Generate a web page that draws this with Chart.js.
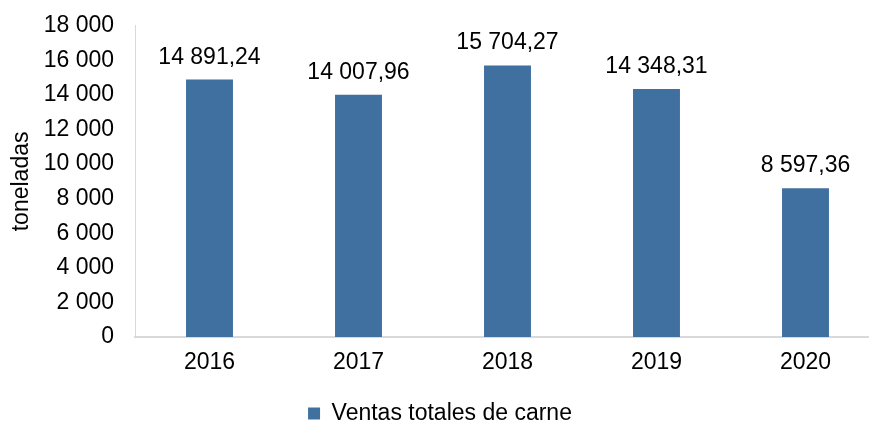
<!DOCTYPE html>
<html>
<head>
<meta charset="utf-8">
<script src="https://cdn.jsdelivr.net/npm/chart.js@4.4.1/dist/chart.umd.min.js"></script>
<style>
	html, body { margin: 0; padding: 0; background: #ffffff; overflow: hidden; }
	#wrap { width: 880px; height: 444px; margin-top: -9px; }
</style>
</head>
<body>
<div id="wrap"><canvas id="meatChart"></canvas></div>
<script>
// Datos
const years = ['2016', '2017', '2018', '2019', '2020'];
const salesTons = [14891.24, 14007.96, 15704.27, 14348.31, 8597.36];
const seriesLabel = 'Ventas totales de carne';
const axisTitle = 'toneladas';

// Format: thousands with space, decimals with comma
function formatNumber(value, decimals) {
	const parts = value.toFixed(decimals).split('.');
	parts[0] = parts[0].replace(/\B(?=(\d{3})+(?!\d))/g, ' ');
	return parts.join(',');
}

const fontFamily = '"Liberation Sans", Arial, sans-serif';
const fontSize = 23;

// Draw value labels above the bars
const valueLabels = {
	id: 'valueLabels',
	afterDatasetsDraw(chart) {
		const ctx = chart.ctx;
		const meta = chart.getDatasetMeta(0);
		ctx.save();
		ctx.font = fontSize + 'px ' + fontFamily;
		ctx.fillStyle = '#000000';
		ctx.textAlign = 'center';
		ctx.textBaseline = 'alphabetic';
		meta.data.forEach((bar, i) => {
			ctx.fillText(formatNumber(salesTons[i], 2), bar.x, bar.y - 16);
		});
		ctx.restore();
	}
};

Chart.defaults.font.family = fontFamily;
Chart.defaults.color = '#000000';

const ctx = document.getElementById('meatChart').getContext('2d');
const meatChart = new Chart(ctx, {
	type: 'bar',
	data: {
		labels: years,
		datasets: [{
			label: seriesLabel,
			data: salesTons,
			backgroundColor: '#3f70a0',
			categoryPercentage: 1,
			barPercentage: 0.315
		}]
	},
	options: {
		responsive: true,
		maintainAspectRatio: false,
		animation: false,
		layout: { padding: { top: 4, left: 0, right: 0, bottom: 0 } },
		plugins: {
			legend: {
				position: 'bottom',
				labels: {
					boxWidth: 12,
					boxHeight: 12,
					padding: 0,
					font: { size: fontSize },
					color: '#000000'
				}
			},
			tooltip: { enabled: false }
		},
		scales: {
			x: {
				grid: { display: false },
				border: { color: '#d9d9d9', width: 2 },
				ticks: { font: { size: fontSize }, padding: 4 },
				afterFit(scale) { scale.height = 65; }
			},
			y: {
				min: 0,
				max: 18000,
				grid: { display: false, drawTicks: false },
				border: { color: '#d9d9d9', width: 1 },
				ticks: {
					stepSize: 2000,
					font: { size: fontSize },
					padding: 21,
					callback: (v) => formatNumber(v, 0)
				},
				title: {
					display: true,
					text: axisTitle,
					font: { size: fontSize },
					padding: { top: 8, bottom: 0 }
				},
				afterFit(scale) { scale.width = 135; }
			}
		}
	},
	plugins: [valueLabels]
});
</script>
</body>
</html>
